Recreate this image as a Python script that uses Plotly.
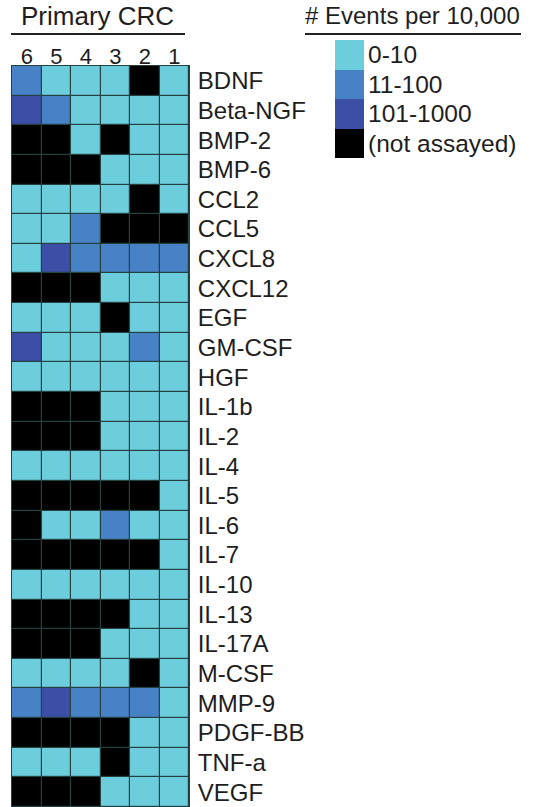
import plotly.graph_objects as go

W, H = 535, 807

columns = ["6", "5", "4", "3", "2", "1"]
analytes = ["BDNF", "Beta-NGF", "BMP-2", "BMP-6", "CCL2", "CCL5", "CXCL8", "CXCL12",
            "EGF", "GM-CSF", "HGF", "IL-1b", "IL-2", "IL-4", "IL-5", "IL-6", "IL-7",
            "IL-10", "IL-13", "IL-17A", "M-CSF", "MMP-9", "PDGF-BB", "TNF-a", "VEGF"]
# 0 = 0-10, 1 = 11-100, 2 = 101-1000, 3 = not assayed
levels = [
    [1, 0, 0, 0, 3, 0],
    [2, 1, 0, 0, 0, 0],
    [3, 3, 0, 3, 0, 0],
    [3, 3, 3, 0, 0, 0],
    [0, 0, 0, 0, 3, 0],
    [0, 0, 1, 3, 3, 3],
    [0, 2, 1, 1, 1, 1],
    [3, 3, 3, 0, 0, 0],
    [0, 0, 0, 3, 0, 0],
    [2, 0, 0, 0, 1, 0],
    [0, 0, 0, 0, 0, 0],
    [3, 3, 3, 0, 0, 0],
    [3, 3, 3, 0, 0, 0],
    [0, 0, 0, 0, 0, 0],
    [3, 3, 3, 3, 3, 0],
    [3, 0, 0, 1, 0, 0],
    [3, 3, 3, 3, 3, 0],
    [0, 0, 0, 0, 0, 0],
    [3, 3, 3, 3, 0, 0],
    [3, 3, 3, 0, 0, 0],
    [0, 0, 0, 0, 3, 0],
    [1, 2, 1, 1, 1, 0],
    [3, 3, 3, 3, 0, 0],
    [0, 0, 0, 3, 0, 0],
    [3, 3, 3, 0, 0, 0],
]
legend_labels = ["0-10", "11-100", "101-1000", "(not assayed)"]
legend_levels = [0, 1, 2, 3]
level_colors = ["#6ccddc", "#4682c5", "#3a4fa5", "#000000"]

colorscale = []
for i, c in enumerate(level_colors):
    colorscale.append([i / 4, c])
    colorscale.append([(i + 1) / 4, c])

FONT = "Liberation Sans, Arial, sans-serif"
TXT = "#1e1e1e"
GRID = "#24403f"

fig = go.Figure()
fig.add_trace(go.Heatmap(
    z=levels, x=columns, y=analytes, zmin=-0.5, zmax=3.5,
    colorscale=colorscale, showscale=False, xgap=1.2, ygap=1.2,
    hoverinfo="x+y", xaxis="x", yaxis="y",
))
fig.add_trace(go.Heatmap(
    z=[[v] for v in legend_levels], x=["key"], y=legend_labels, zmin=-0.5, zmax=3.5,
    colorscale=colorscale, showscale=False, hoverinfo="y", xaxis="x2", yaxis="y2",
))

def px(x):
    return x / W

def py(y):
    return 1 - y / H

fig.update_layout(
    width=W, height=H, margin=dict(l=0, r=0, t=0, b=0, pad=0),
    paper_bgcolor="white", plot_bgcolor=GRID,
    font=dict(family=FONT, color=TXT),
    xaxis=dict(domain=[px(12), px(189)], side="top", showgrid=False, zeroline=False,
               automargin=False, ticks="", tickfont=dict(size=22, color=TXT),
               ticklabelstandoff=-8,
               showline=True, linecolor=GRID, linewidth=1, mirror=True),
    yaxis=dict(domain=[py(807), py(66)], side="right", autorange="reversed",
               automargin=False, showgrid=False, zeroline=False, ticks="",
               tickfont=dict(size=24, color=TXT), ticklabelstandoff=3,
               showline=True, linecolor=GRID, linewidth=1, mirror=True),
    xaxis2=dict(domain=[px(335), px(364)], anchor="y2", showticklabels=False,
                automargin=False, showgrid=False, zeroline=False, ticks=""),
    yaxis2=dict(domain=[py(158), py(40)], anchor="x2", side="right", autorange="reversed",
                automargin=False, showgrid=False, zeroline=False, ticks="",
                tickfont=dict(size=24.5, color=TXT), ticklabelstandoff=3),
    annotations=[
        dict(text="Primary CRC", x=px(97.5), y=py(16), xref="paper", yref="paper",
             showarrow=False, font=dict(size=26, color=TXT), xanchor="center", yanchor="middle"),
        dict(text="# Events per 10,000", x=px(412.5), y=py(16), xref="paper", yref="paper",
             showarrow=False, font=dict(size=24, color=TXT), xanchor="center", yanchor="middle"),
    ],
    shapes=[
        dict(type="line", xref="paper", yref="paper", x0=px(11), x1=px(185), y0=py(34), y1=py(34),
             line=dict(color="#222222", width=2)),
        dict(type="line", xref="paper", yref="paper", x0=px(305), x1=px(521), y0=py(34), y1=py(34),
             line=dict(color="#222222", width=2)),
    ],
)

fig.write_html("out.html", config={"displayModeBar": False},
               post_script="document.body.style.margin='0';document.body.style.overflow='hidden';")
